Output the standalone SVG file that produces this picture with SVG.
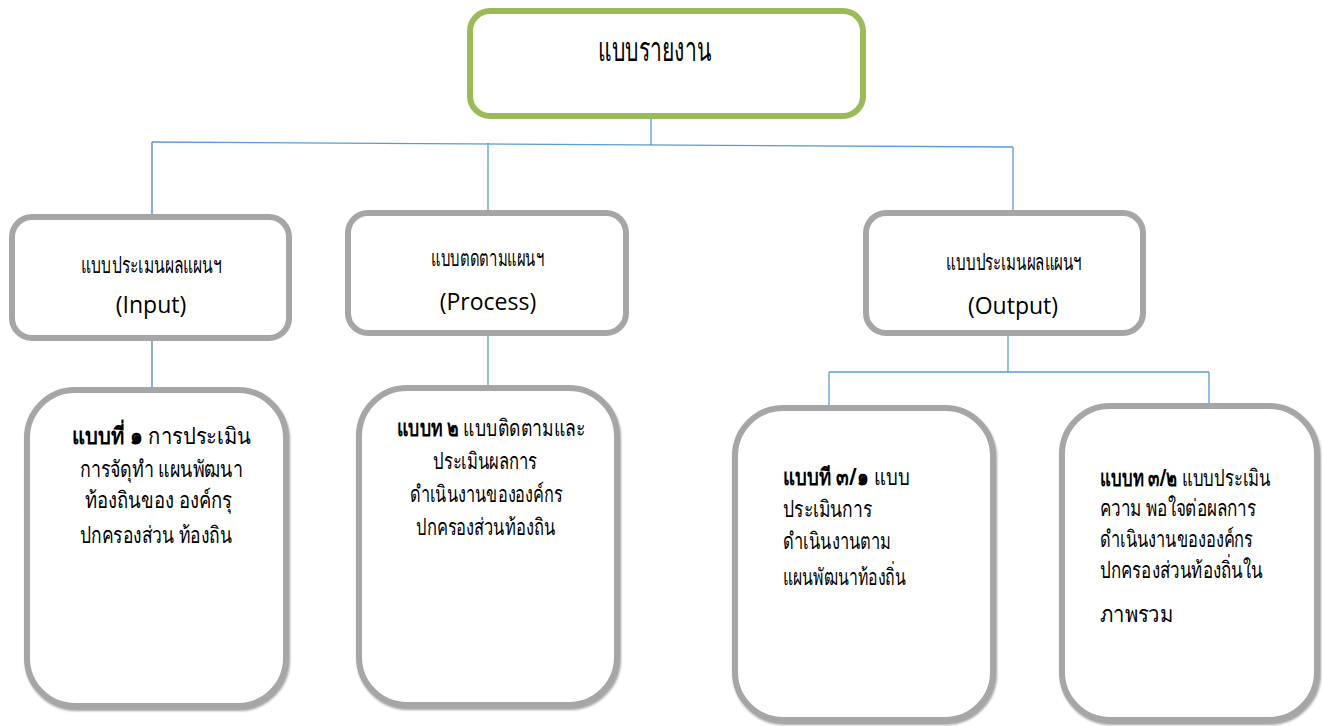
<svg xmlns="http://www.w3.org/2000/svg" width="1322" height="726" viewBox="0 0 1322 726">
<defs>
<filter id="sh" x="-5%" y="-5%" width="110%" height="110%">
<feDropShadow dx="1" dy="2" stdDeviation="1" flood-color="#666" flood-opacity="0.6"/>
</filter>
</defs>
<style>
.top{fill:#fff;stroke:#9BBB59;stroke-width:6}
.box{fill:#fff;stroke:#A6A6A6;stroke-width:6}
.big{filter:url(#sh)}
.con{stroke:#5B9BD5;stroke-width:1.3;fill:none}
.th{font-family:"Noto Sans","DejaVu Sans",sans-serif;font-size:23px;fill:#000}
.en{font-family:"Open Sans","Liberation Sans",sans-serif;font-size:23px;fill:#000}
.b{font-weight:bold}
.c{text-anchor:middle}
</style>
<rect width="1322" height="726" fill="#fff"/>
<g id="connectors">
<path class="con" d="M651 117V145M152 142L1013 147M488 143V213M1013 147V211"/>
<path class="con" style="stroke:#4F81BD" d="M152 142V215M152 338V390"/>
<path class="con" d="M488 333V392M1008 333V372M829 372H1209M829 372V410M1209 372V405"/>
</g>
<g id="n-report">
<rect class="top" x="470" y="11" width="393" height="105" rx="20"/>
<text class="th" x="598" y="61" textLength="113" lengthAdjust="spacingAndGlyphs" style="font-size:34px">แบบรายงาน</text>
</g>
<g id="n-input">
<rect class="box" x="12" y="217" width="277" height="121" rx="20"/>
<text class="th" x="81" y="273" textLength="141" lengthAdjust="spacingAndGlyphs">แบบประเมนผลแผนฯ</text>
<text class="en c" x="151" y="313">(Input)</text>
</g>
<g id="n-process">
<rect class="box" x="348" y="213" width="278" height="120" rx="20"/>
<text class="th" x="431" y="266" textLength="113" lengthAdjust="spacingAndGlyphs">แบบตดตามแผนฯ</text>
<text class="en c" x="488" y="310">(Process)</text>
</g>
<g id="n-output">
<rect class="box" x="866" y="213" width="277" height="120" rx="20"/>
<text class="th" x="946" y="270" textLength="136" lengthAdjust="spacingAndGlyphs">แบบประเมนผลแผนฯ</text>
<text class="en c" x="1013" y="314">(Output)</text>
</g>
<g id="n-form1">
<rect class="box big" x="27" y="390" width="259" height="316" rx="48"/>
<text class="th" x="72" y="444" textLength="179" lengthAdjust="spacingAndGlyphs"><tspan class="b">แบบที่ ๑</tspan> การประเมิน</text>
<text class="th" x="80" y="477" textLength="163" lengthAdjust="spacingAndGlyphs">การจัดุทำ แผนพัฒนา</text>
<text class="th" x="85" y="508" textLength="147" lengthAdjust="spacingAndGlyphs">ท้องถินของ องค์กรุ</text>
<text class="th" x="80" y="543" textLength="152" lengthAdjust="spacingAndGlyphs">ปกครองส่วน ท้องถิน</text>
</g>
<g id="n-form2">
<rect class="box big" x="359" y="388" width="258" height="317" rx="48"/>
<text class="th" x="397" y="436" textLength="188" lengthAdjust="spacingAndGlyphs"><tspan class="b">แบบท ๒</tspan> แบบติดตามและ</text>
<text class="th" x="433" y="469" textLength="104" lengthAdjust="spacingAndGlyphs">ประเมินผลการ</text>
<text class="th" x="410" y="502" textLength="152" lengthAdjust="spacingAndGlyphs">ดำเนินงานขององค์กร</text>
<text class="th" x="416" y="535" textLength="139" lengthAdjust="spacingAndGlyphs">ปกครองส่วนท้องถิน</text>
</g>
<g id="n-form31">
<rect class="box big" x="735" y="408" width="258" height="312" rx="48"/>
<text class="th" x="783" y="485" textLength="127" lengthAdjust="spacingAndGlyphs"><tspan class="b">แบบที ๓/๑</tspan> แบบ</text>
<text class="th" x="783" y="517" textLength="89" lengthAdjust="spacingAndGlyphs">ประเมินการ</text>
<text class="th" x="783" y="549" textLength="108" lengthAdjust="spacingAndGlyphs">ดำเนินงานตาม</text>
<text class="th" x="783" y="585" textLength="123" lengthAdjust="spacingAndGlyphs">แผนพัฒนาท้องถิ่น</text>
</g>
<g id="n-form32">
<rect class="box big" x="1062" y="406" width="255" height="314" rx="48"/>
<text class="th" x="1100" y="486" textLength="171" lengthAdjust="spacingAndGlyphs"><tspan class="b">แบบท ๓/๒</tspan> แบบประเมิน</text>
<text class="th" x="1100" y="516" textLength="156" lengthAdjust="spacingAndGlyphs">ความ พอใจต่อผลการ</text>
<text class="th" x="1100" y="547" textLength="153" lengthAdjust="spacingAndGlyphs">ดำเนินงานขององค์กร</text>
<text class="th" x="1100" y="578" textLength="163" lengthAdjust="spacingAndGlyphs">ปกครองส่วนท้องถิ่นใน</text>
<text class="th" x="1100" y="622" textLength="73" lengthAdjust="spacingAndGlyphs">ภาพรวม</text>
</g>
</svg>
